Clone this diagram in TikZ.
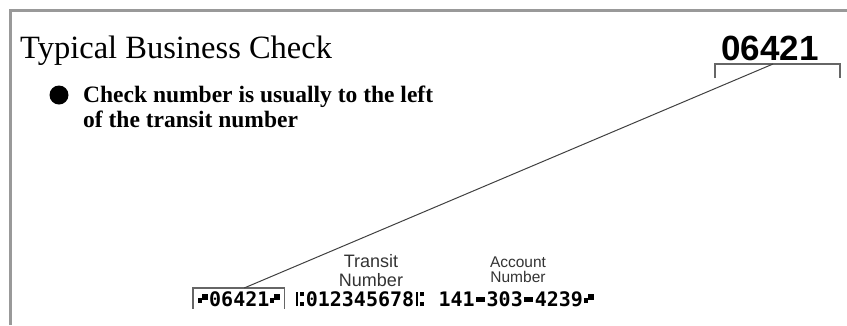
\documentclass[tikz,border=0pt]{standalone}
\usepackage{fontspec}
\setmainfont{Liberation Serif}
\setsansfont{Liberation Sans}
\newfontfamily\micrfont{DejaVu Sans Mono}
% E-13B symbols, no installed font has them
\newcommand{\onus}{\hbox to 12pt{\hss\rule[3pt]{4pt}{5pt}\rule[6pt]{6pt}{6pt}\hss}}
\newcommand{\transitsym}{\hbox to 12pt{\hss\rule{2.5pt}{14pt}\hspace{2pt}\rlap{\rule[10pt]{4pt}{4pt}}\rule{4pt}{4pt}\hss}}
\newcommand{\dashsym}{\hbox to 12pt{\hss\rule[4pt]{9pt}{5pt}\hss}}
\usetikzlibrary{
    arrows.meta,
    positioning
}

\begin{document}
\begin{tikzpicture}[
        x=1pt, y=-1pt,
        heading/.style={
            font=\fontsize{32.5}{32.5}\selectfont,
            anchor=base west,
            inner sep=0pt
        },
        note/.style={
            font=\bfseries\fontsize{23.5}{25}\selectfont,
            align=left,
            anchor=base west,
            inner sep=0pt
        },
        caption/.style={
            font=\sffamily,
            align=center,
            inner sep=0pt,
            text=black!80
        },
        micr/.style={
            font=\micrfont\bfseries\fontsize{20}{20}\selectfont,
            anchor=base west,
            inner sep=0pt
        },
        bracket/.style={
            draw=black!60,
            line width=1.2pt
        }
    ]
        \useasboundingbox (0,0) rectangle (847,325);
        % frame
        \draw[line width=3pt, black!40] (10,325) -- (10,10) -- (847,10);

        \node[heading] (title) at (20,58) {Typical Business Check};
        \node[circle, fill, minimum size=19pt, inner sep=0pt] (dot) at (59,95) {};
        \node[note] (rule) at (83,127) {Check number is usually to the left\\of the transit number};

        \node[font=\sffamily\bfseries\fontsize{35}{35}\selectfont, anchor=base, inner sep=0pt] (bignum) at (770,60) {06421};
        \coordinate (bl) at (715,64);
        \coordinate (br) at (840,64);
        \coordinate (tip) at (773,64);
        \draw[bracket] ([yshift=-14pt]bl) -- (bl) -- (br) -- ([yshift=-14pt]br);

        % MICR line
        \node[micr] (chk) at (197,306) {\onus06421\onus};
        \node[micr, right=12pt of chk.base east, anchor=base west] (transit) {\transitsym012345678\transitsym};
        \node[micr, right=12pt of transit.base east, anchor=base west] (account) {141\dashsym303\dashsym4239\onus};
        \draw[bracket] ([xshift=-4pt,yshift=-2pt]chk.south west) -- ([xshift=-4pt,yshift=3pt]chk.north west)
            coordinate (boxtop) -- ([xshift=3pt,yshift=3pt]chk.north east) -- ([xshift=3pt,yshift=-2pt]chk.south east);

        \node[caption, font=\sffamily\fontsize{18}{19}\selectfont] (tlabel) at (371,271) {Transit\\Number};
        \node[caption, font=\sffamily\fontsize{15.5}{15}\selectfont] (alabel) at (518,270) {Account\\Number};

        \draw[black!75, line width=1pt] (tip) -- ([xshift=5pt]chk.north |- boxtop);
    \end{tikzpicture}
\end{document}
